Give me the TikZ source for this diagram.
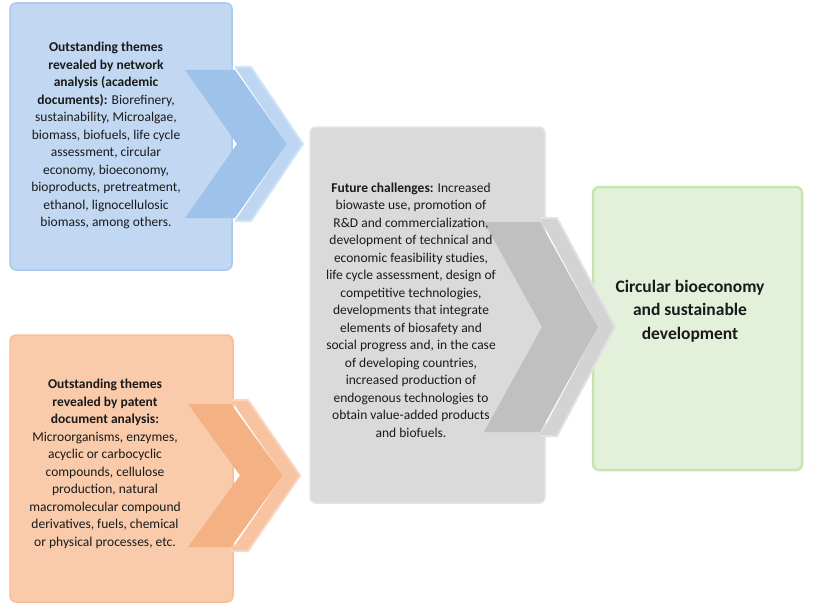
\documentclass[tikz,border=0pt]{standalone}
\usepackage{fontspec}
\setmainfont{Carlito}
\definecolor{bluebox}{HTML}{C2D8F2}
\definecolor{blueedge}{HTML}{A9C9EF}
\definecolor{bluedark}{HTML}{9FC2EA}
\definecolor{bluelight}{HTML}{BDD6F2}
\definecolor{bluelightedge}{HTML}{D2E4F8}
\definecolor{orbox}{HTML}{F9CBAB}
\definecolor{oredge}{HTML}{F7BE98}
\definecolor{ordark}{HTML}{F4B183}
\definecolor{orlight}{HTML}{F8C3A0}
\definecolor{orlightedge}{HTML}{FAD6BE}
\definecolor{grbox}{HTML}{DADADA}
\definecolor{gredge}{HTML}{E4E4E4}
\definecolor{grdark}{HTML}{C0C0C0}
\definecolor{grlight}{HTML}{D3D3D3}
\definecolor{grlightedge}{HTML}{E2E2E2}
\definecolor{gnbox}{HTML}{E3F0DA}
\definecolor{gnedge}{HTML}{C6E6B0}
\definecolor{txt}{HTML}{1A1A1A}
% chevron: x0, ytop, ybottom, width, depth, style
\newcommand\mychevron[6]{%
  \path[#6] (#1,#2) -- ({#1+#4-#5},#2) -- ({#1+#4},{(#2+#3)/2}) --
    ({#1+#4-#5},#3) -- (#1,#3) -- ({#1+#5},{(#2+#3)/2}) -- cycle;}
% band behind a chevron: x0, ytop, ybottom, width, depth, offset, ytop', ybottom', fill colour, edge colour
\newcommand\mychevband[9]{%
  \path[fill=#9] ({#1+#4-#5},#7) -- ({#1+#6+#4-#5},#7) -- ({#1+#6+#4},{(#2+#3)/2}) --
    ({#1+#6+#4-#5},#8) -- ({#1+#4-#5},#8) -- ({#1+#4},{(#2+#3)/2}) -- cycle;
  \mychevbandedge{#1}{#2}{#3}{#4}{#5}{#6}{#7}{#8}}
\newcommand\mychevbandedge[9]{%
  \path[draw=#9, line width=2pt, line join=round] ({#1+#4-#5},#7) -- ({#1+#6+#4-#5},#7) -- ({#1+#6+#4},{(#2+#3)/2}) --
    ({#1+#6+#4-#5},#8) -- ({#1+#4-#5},#8);}
\begin{document}
\begin{tikzpicture}[x=1pt,y=-1pt,
  panel/.style={rectangle, rounded corners=6pt, inner sep=0pt, line width=1.5pt},
  bodytext/.style={align=center, text=txt, inner sep=0pt,
    font=\fontsize{13.5}{17.5}\selectfont},
  bigtext/.style={align=center, text=txt, inner sep=0pt,
    font=\fontsize{17.5}{23.5}\selectfont\bfseries}]
\useasboundingbox (0,0) rectangle (813,615);
% panels
\node[panel, fill=bluebox, draw=blueedge, minimum width=222pt, minimum height=267pt] (blue) at (121,136.5) {};
\node[panel, fill=orbox, draw=oredge, minimum width=223pt, minimum height=267pt] (orange) at (121.5,468.5) {};
\node[panel, fill=grbox, draw=gredge, minimum width=235pt, minimum height=376pt] (gray) at (427.5,315) {};
\node[panel, fill=gnbox, draw=gnedge, line width=2.5pt, minimum width=209pt, minimum height=283pt] (green) at (697.5,328.5) {};
% chevrons
\mychevband{185}{70}{218}{102}{52}{16}{67}{221}{bluelight}{bluelightedge}
\mychevron{185}{70}{218}{102}{52}{fill=bluedark}
\mychevband{188}{404}{547}{95}{52}{17}{400}{551}{orlight}{orlightedge}
\mychevron{188}{404}{547}{95}{52}{fill=ordark}
\mychevband{484}{222}{432}{114}{58}{17}{218}{436}{grlight}{grlightedge}
\mychevron{484}{222}{432}{114}{58}{fill=grdark}
% texts
\node[bodytext] (bluetext) at (106,135.5) {%
\textbf{Outstanding themes}\\
\textbf{revealed by network}\\
\textbf{analysis (academic}\\
\textbf{documents):} Biorefinery,\\
sustainability, Microalgae,\\
biomass, biofuels, life cycle\\
assessment, circular\\
economy, bioeconomy,\\
bioproducts, pretreatment,\\
ethanol, lignocellulosic\\
biomass, among others.};
\node[bodytext] (orangetext) at (105,464) {%
\textbf{Outstanding themes}\\
\textbf{revealed by patent}\\
\textbf{document analysis:}\\
Microorganisms, enzymes,\\
acyclic or carbocyclic\\
compounds, cellulose\\
production, natural\\
macromolecular compound\\
derivatives, fuels, chemical\\
or physical processes, etc.};
\node[bodytext] (graytext) at (411,310) {%
\textbf{Future challenges:} Increased\\
biowaste use, promotion of\\
R\&D and commercialization,\\
development of technical and\\
economic feasibility studies,\\
life cycle assessment, design of\\
competitive technologies,\\
developments that integrate\\
elements of biosafety and\\
social progress and, in the case\\
of developing countries,\\
increased production of\\
endogenous technologies to\\
obtain value-added products\\
and biofuels.};
\node[bigtext] (greentext) at (690,311) {Circular bioeconomy\\and sustainable\\development};
\end{tikzpicture}
\end{document}
